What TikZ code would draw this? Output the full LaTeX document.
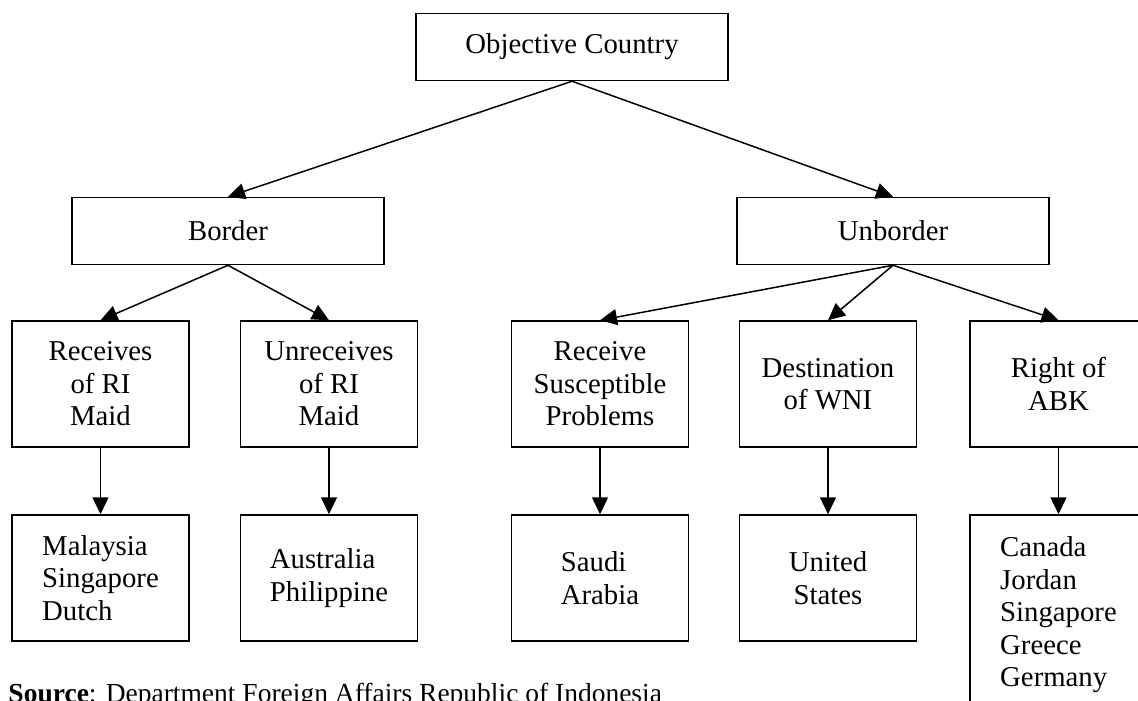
\documentclass[tikz,border=0pt]{standalone}
\usepackage{fontspec}
\setmainfont{Liberation Serif}
\usepackage{tikz}
\usetikzlibrary{positioning, arrows.meta}
\tikzset{
  box/.style={draw, line width=0.6pt, align=center, font=\fontsize{11.5pt}{13pt}\selectfont, inner sep=2pt},
  wide/.style={box, minimum width=124.8pt, minimum height=26.8pt},
  cell/.style={box, minimum width=70.8pt, minimum height=50.4pt},
  flow/.style={-{Triangle[length=6.8pt, width=6.4pt]}, line width=0.6pt},
}

\begin{document}
\begin{tikzpicture}[x=0.4pt, y=-0.4pt]
  \useasboundingbox (0,0) rectangle (1138,700);
  % top levels
  \node[wide] (obj) at (572,47) {Objective Country};
  \node[wide] (border) at (228,231) {Border};
  \node[wide] (unborder) at (893,231) {Unborder};
  % categories
  \node[cell] (recv) at (100.5,384) {Receives\\ of RI\\ Maid};
  \node[cell] (unrecv) at (329,384) {Unreceives\\ of RI\\ Maid};
  \node[cell] (susc) at (600,384) {Receive\\ Susceptible\\ Problems};
  \node[cell] (dest) at (828,384) {Destination\\ of WNI};
  \node[cell] (abk) at (1058.5,384) {Right of\\ ABK};
  % countries
  \node[cell, align=left] (malay) at (100.5,578) {Malaysia\\ Singapore\\ Dutch};
  \node[cell, align=left] (austr) at (329,578) {Australia\\ Philippine};
  \node[cell, align=left] (saudi) at (600,578) {Saudi\\ Arabia};
  \node[cell] (us) at (828,578) {United\\ States};
  \node[cell, align=left, minimum height=80pt] (canada) at (1058.5,615) {Canada\\ Jordan\\ Singapore\\ Greece\\ Germany};
  \node[anchor=base west, inner sep=0pt, font=\fontsize{11pt}{13pt}\selectfont] (src) at (8,702) {\textbf{Source}: Department Foreign Affairs Republic of Indonesia};
  \draw[flow] (obj.south) -- (border.north);
  \draw[flow] (obj.south) -- (unborder.north);
  \foreach \c in {recv, unrecv} \draw[flow] (border.south) -- (\c.north);
  \foreach \c in {susc, dest, abk} \draw[flow] (unborder.south) -- (\c.north);
  \foreach \a/\b in {recv/malay, unrecv/austr, susc/saudi, dest/us, abk/canada} \draw[flow] (\a) -- (\b);
\end{tikzpicture}
\end{document}
